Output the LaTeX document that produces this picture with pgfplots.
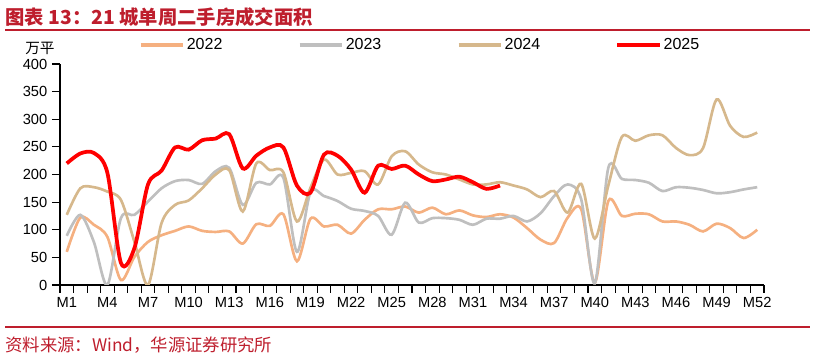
\documentclass[border=0pt]{standalone}
\usepackage{fontspec}
\setmainfont{Liberation Sans}
\newfontfamily\cjk{Noto Sans CJK SC}
\usepackage{pgfplots}
\pgfplotsset{compat=1.18}
\usepackage{pgfplotstable}
\definecolor{c22}{HTML}{F5B080}
\definecolor{c23}{HTML}{BFBFBF}
\definecolor{c24}{HTML}{D6B88C}
\definecolor{c25}{HTML}{FF0000}
\definecolor{hy}{RGB}{190,30,45}

\pgfplotstableread{
w a b c
1 60 89 127
2 122 127 175
3 109 78 177
4 87 0 169
5 9 121 154
6 51 127 78
7 78 151 0
8 90 175 112
9 98 188 145
10 106 190 153
11 98 183 175
12 96 206 200
13 97 212 208
14 75 145 133
15 110 185 220
16 107 182 208
17 128 194 204
18 43 60 115
19 120 168 176
20 106 161 227
21 109 152 200
22 93 138 203
23 118 134 206
24 137 125 182
25 137 91 233
26 142 149 242
27 131 113 218
28 140 121 204
29 128 121 200
30 135 118 191
31 126 109 182
32 123 120 182
33 128 120 186
34 122 125 180
35 103 115 173
36 82 130 159
37 76 161 170
38 122 182 131
39 137 155 183
40 4 3 84
41 152 212 180
42 125 192 268
43 129 190 261
44 128 185 271
45 115 170 271
46 115 177 248
47 109 176 235
48 97 172 248
49 111 166 336
50 103 168 288
51 85 173 268
52 100 177 276
}\tMain

\pgfplotstableread{
w d
1 220
2 238
3 239
4 203
5 40
6 67
7 182
8 207
9 249
10 245
11 262
12 265
13 273
14 211
15 234
16 249
17 249
18 180
19 167
20 236
21 234
22 209
23 167
24 216
25 210
26 216
27 200
28 188
29 191
30 196
31 186
32 174
33 180
}\tRed

\begin{document}
\begin{tikzpicture}
\useasboundingbox (0,0) rectangle (611.25pt,270pt);
% title
\node[anchor=west, inner sep=0pt, text=hy, font=\cjk\bfseries\fontsize{14.5}{16}\selectfont] at (4pt,257.5pt) {图表 13：21 城单周二手房成交面积};
\draw[hy, line width=1.2pt] (3.75pt,247.5pt) -- (607.5pt,247.5pt);
\draw[hy, line width=1.2pt] (3.75pt,24.75pt) -- (607.5pt,24.75pt);
\node[anchor=west, inner sep=0pt, text=hy, font=\cjk\fontsize{13}{15}\selectfont] at (4pt,11.5pt) {资料来源：Wind，华源证券研究所};
\node[font=\cjk\fontsize{11}{13}\selectfont] at (30pt,234pt) {万平};
\begin{axis}[
  at={(45pt,56.25pt)}, anchor=south west,
  scale only axis, width=528pt, height=165.75pt,
  xmin=0.5, xmax=52.5, ymin=0, ymax=400,
  axis lines=left, axis line style={-, black, line width=0.9pt},
  xtick={1,4,...,52},
  xticklabels={M1,M4,M7,M10,M13,M16,M19,M22,M25,M28,M31,M34,M37,M40,M43,M46,M49,M52},
  minor xtick={0.5,1.5,...,52.5},
  major x tick style={draw=none},
  ytick={0,50,...,400},
  tick align=outside, major tick length=6pt, minor tick length=6pt,
  tick style={black, line width=0.8pt},
  ticklabel style={font=\fontsize{11}{13}\selectfont},
  /pgf/number format/assume math mode=true,
  legend columns=4,
  legend cell align=left,
  legend style={at={(axis description cs:0.112,1.086)}, anchor=west, draw=none, fill=none, inner sep=0pt,
    font=\fontsize{12}{14}\selectfont,
    nodes={inner xsep=1.5pt},
    /tikz/every even column/.append style={column sep=55.2pt}},
  legend image code/.code={\draw[#1, line width=2.3pt] (0pt,0pt) -- (32pt,0pt);},
]
\addplot[c22, line width=2pt, smooth, tension=0.5] table[x=w, y=a] {\tMain};
\addlegendentry{2022}
\addplot[c23, line width=2pt, smooth, tension=0.5] table[x=w, y=b] {\tMain};
\addlegendentry{2023}
\addplot[c24, line width=2pt, smooth, tension=0.5] table[x=w, y=c] {\tMain};
\addlegendentry{2024}
\addplot[c25, line width=2.8pt, smooth, tension=0.5] table[x=w, y=d] {\tRed};
\addlegendentry{2025}
\end{axis}
\end{tikzpicture}
\end{document}
